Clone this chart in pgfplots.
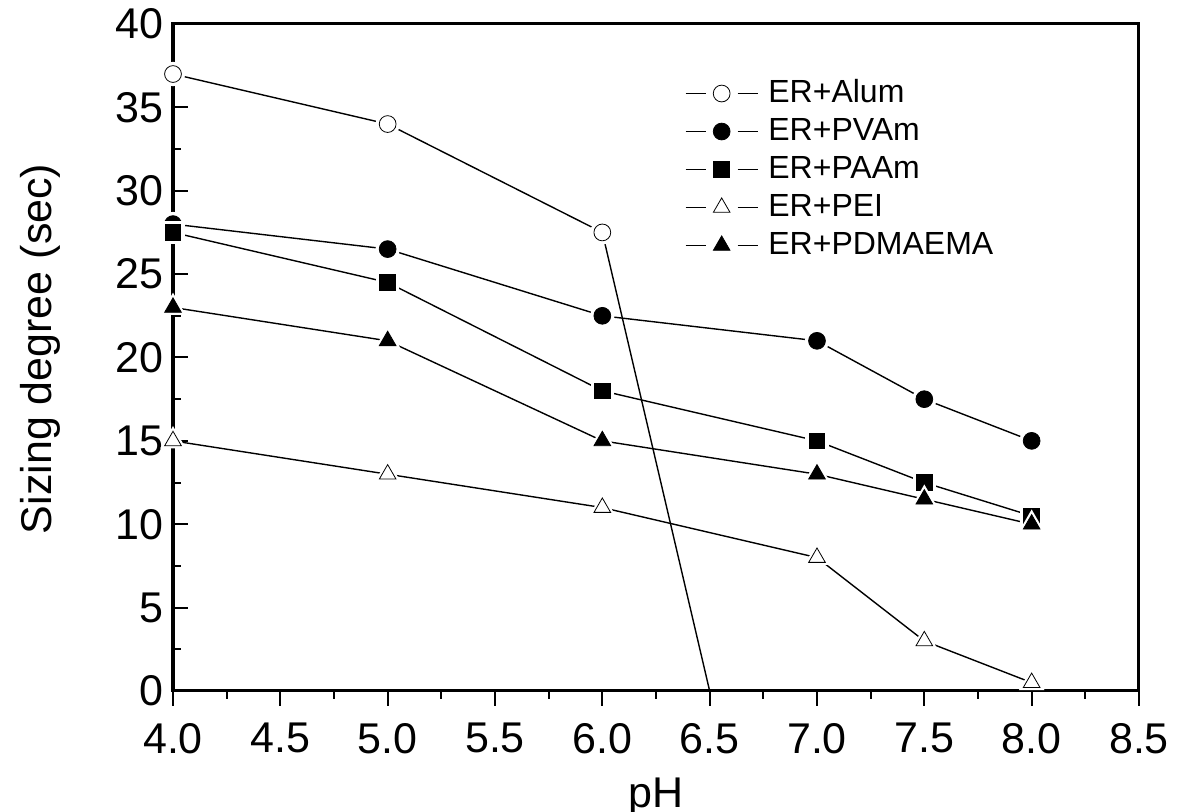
\documentclass[border=0pt]{standalone}
\usepackage{fontspec}
\setmainfont{Liberation Sans}
\usepackage{pgfplots}
\pgfplotsset{compat=1.18}
\usepackage{pgfplotstable}

\pgfplotstableread{
x y
4.0 37
5.0 34
6.0 27.5
6.5 0
}\alumline
\pgfplotstableread{
x y
4.0 37
5.0 34
6.0 27.5
}\alummarks
\pgfplotstableread{
x y
4.0 28
5.0 26.5
6.0 22.5
7.0 21
7.5 17.5
8.0 15
}\pvam
\pgfplotstableread{
x y
4.0 27.5
5.0 24.5
6.0 18
7.0 15
7.5 12.5
8.0 10.5
}\paam
\pgfplotstableread{
x y
4.0 15
5.0 13
6.0 11
7.0 8
7.5 3
8.0 0.5
}\pei
\pgfplotstableread{
x y
4.0 23
5.0 21
6.0 15
7.0 13
7.5 11.5
8.0 10
}\pdmaema

\pgfplotsset{
  common/.style={
    scale only axis,
    width=483pt, height=333.5pt,
    at={(86.5pt,60.5pt)}, anchor=south west,
    xmin=4.0, xmax=8.5, ymin=0, ymax=40,
    axis line style={line width=1.5pt},
    every tick/.style={black, line width=1pt},
    major tick length=7.5pt, minor tick length=4pt,
    tick pos=left,
    /pgf/number format/assume math mode=true,
    tick label style={font=\fontsize{21.5}{21.5}\selectfont},
    label style={font=\fontsize{21.5}{21.5}\selectfont},
    clip=false,
  },
  dline/.style={black, line width=0.7pt, no marks},
  halo/.style={only marks, white, mark options={fill=white, draw=white, line width=1pt}, forget plot},
  dmark/.style={only marks, black, mark options={line width=1pt},
    legend image code/.code={
      \draw[black, line width=0.7pt] (0pt,0pt) -- (10pt,0pt) (26pt,0pt) -- (36pt,0pt);
      \draw[mark repeat=2, mark phase=2, ##1] plot coordinates {(0pt,0pt) (18pt,0pt) (36pt,0pt)};
    }},
}

\begin{document}
\begin{tikzpicture}
\path[use as bounding box] (0,0) rectangle (590pt,406pt);

% axis carrying x ticks (outside)
\begin{axis}[common,
  tick align=outside,
  ytick=\empty,
  xtick={4.0,4.5,...,8.5},
  minor x tick num=1,
  xticklabel={\pgfmathprintnumber[fixed,fixed zerofill,precision=1]{\tick}},
  xticklabel style={yshift=-5pt},
  xlabel={pH},
  xlabel style={at={(rel axis cs:0.5,0)}, anchor=base, yshift=-58.5pt},
]
\end{axis}

% axis carrying y ticks (inside) and data
\begin{axis}[common,
  tick align=inside,
  xtick=\empty,
  ytick={0,5,...,40},
  minor y tick num=1,
  yticklabel style={xshift=-1.5pt},
  ylabel={Sizing degree (sec)},
  ylabel style={at={(rel axis cs:0,0.513)}, anchor=base, yshift=60.5pt},
  legend style={at={(rel axis cs:0.530,0.9175)}, anchor=north west,
    draw=none, fill=none, inner sep=0pt, outer sep=0pt,
    font=\fontsize{16}{16}\selectfont,
    nodes={inner sep=0pt, text height=11.5pt, text depth=3pt},
    row sep=4.5pt, column sep=5pt},
  legend cell align=left,
]
% ER+Alum
\addplot[dline, forget plot] table {\alumline};
\addplot[halo, mark=*, mark size=5.6pt] table {\alummarks};
\addplot[dmark, mark=*, mark size=4.2pt, mark options={fill=white}] table {\alummarks};
\addlegendentry{ER+Alum}
% ER+PVAm
\addplot[dline, forget plot] table {\pvam};
\addplot[halo, mark=*, mark size=5.6pt] table {\pvam};
\addplot[dmark, mark=*, mark size=4.2pt, mark options={fill=black}] table {\pvam};
\addlegendentry{ER+PVAm}
% ER+PAAm
\addplot[dline, forget plot] table {\paam};
\addplot[halo, mark=square*, mark size=5.3pt] table {\paam};
\addplot[dmark, mark=square*, mark size=3.9pt, mark options={fill=black}] table {\paam};
\addlegendentry{ER+PAAm}
% ER+PEI
\addplot[dline, forget plot] table {\pei};
\addplot[halo, mark=triangle*, mark size=6.4pt] table {\pei};
\addplot[dmark, mark=triangle*, mark size=4.8pt, mark options={fill=white}] table {\pei};
\addlegendentry{ER+PEI}
% ER+PDMAEMA
\addplot[dline, forget plot] table {\pdmaema};
\addplot[halo, mark=triangle*, mark size=6.4pt] table {\pdmaema};
\addplot[dmark, mark=triangle*, mark size=4.8pt, mark options={fill=black}] table {\pdmaema};
\addlegendentry{ER+PDMAEMA}
\end{axis}
\end{tikzpicture}
\end{document}
